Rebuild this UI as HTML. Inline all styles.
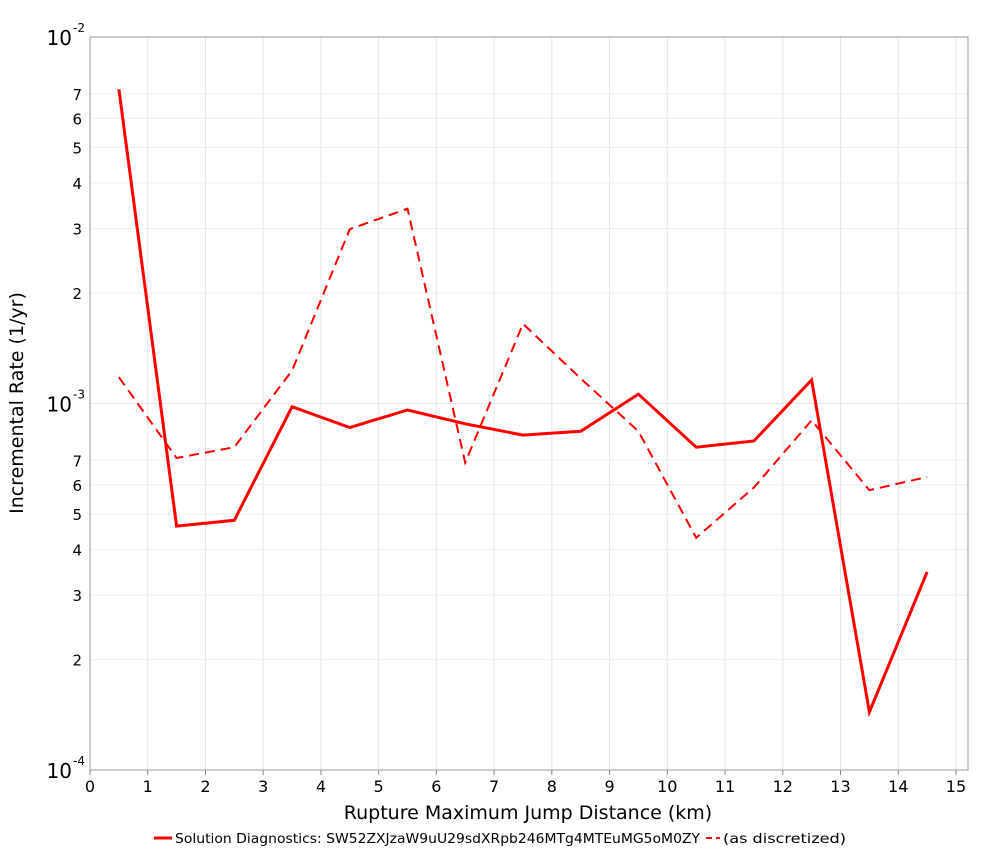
<!DOCTYPE html>
<html><head><meta charset="utf-8"><style>
html,body{margin:0;padding:0;background:#fff;width:1000px;height:850px;overflow:hidden}
svg text{font-family:"DejaVu Sans","Liberation Sans",sans-serif}
</style></head><body>
<svg id="chart" width="1000" height="850" xmlns="http://www.w3.org/2000/svg">
<g id="grid"></g>
<rect x="90" y="37" width="878" height="733" fill="none" stroke="#999" stroke-width="1"/>
<g id="axes"></g>
<g id="series"></g>
<text x="528" y="819" font-size="19" text-anchor="middle">Rupture Maximum Jump Distance (km)</text>
<text transform="translate(23,403) rotate(-90)" font-size="19" text-anchor="middle">Incremental Rate (1/yr)</text>
<g>
<line x1="154" y1="838" x2="172" y2="838" stroke="#f00" stroke-width="3"/>
<text x="175" y="843" font-size="13" textLength="525" lengthAdjust="spacingAndGlyphs">Solution Diagnostics: SW52ZXJzaW9uU29sdXRpb246MTg4MTEuMG5oM0ZY</text>
<line x1="706" y1="838" x2="720" y2="838" stroke="#f00" stroke-width="2" stroke-dasharray="6,4"/>
<text x="723" y="843" font-size="13" textLength="123" lengthAdjust="spacingAndGlyphs">(as discretized)</text>
</g>
</svg>
<script>
const xs = [0.5,1.5,2.5,3.5,4.5,5.5,6.5,7.5,8.5,9.5,10.5,11.5,12.5,13.5,14.5];
const solutionRates = [7.2e-3,4.63e-4,4.8e-4,9.8e-4,8.6e-4,9.6e-4,8.8e-4,8.2e-4,8.4e-4,1.06e-3,7.6e-4,7.9e-4,1.16e-3,1.44e-4,3.47e-4];
const discretizedRates = [1.18e-3,7.1e-4,7.6e-4,1.23e-3,2.99e-3,3.4e-3,6.9e-4,1.65e-3,1.17e-3,8.4e-4,4.3e-4,5.9e-4,9.0e-4,5.8e-4,6.3e-4];
const xTicks = [0,1,2,3,4,5,6,7,8,9,10,11,12,13,14,15];
const yMinorTicks = [2,3,4,5,6,7];

const NS="http://www.w3.org/2000/svg";
const X0=90,XS=57.73,YT=37,DEC=366.5;
function xPos(v){return X0+v*XS;}
function yPos(v){return YT+(-2-Math.log10(v))*DEC;}
function mk(tag,attrs,parent){const e=document.createElementNS(NS,tag);for(const k in attrs)e.setAttribute(k,attrs[k]);parent.appendChild(e);return e;}
const grid=document.getElementById('grid'),axes=document.getElementById('axes'),series=document.getElementById('series');

xTicks.forEach(t=>{
  const x=xPos(t);
  const g=mk('line',{x1:x,x2:x,y1:37,y2:770,stroke:'#e6e6e6','stroke-width':1},grid);
  
  
  const tk=mk('line',{x1:x,x2:x,y1:770,y2:775,stroke:'#888'},axes);
  
  
  const l=mk('text',{x:x,y:792,'font-size':16,'text-anchor':'middle'},axes);
  l.textContent=t;
  
  
});
[-4,-3,-2].forEach(p=>{
  const y=yPos(Math.pow(10,p));
  const g=mk('line',{x1:90,x2:968,y1:y,y2:y,stroke:'#e6e6e6'},grid);
  
  
  const l=mk('text',{x:72,y:y+8,'font-size':20,'text-anchor':'end'},axes);
  l.textContent='10';
  
  
  const s=mk('text',{x:73,y:y-5,'font-size':12},axes);
  s.textContent=String(p);
  
  
  if(p<-2){
    yMinorTicks.forEach(m=>{
      const yy=yPos(m*Math.pow(10,p));
      const gm=mk('line',{x1:90,x2:968,y1:yy,y2:yy,stroke:'#eeeeee'},grid);
      
      
      const lm=mk('text',{x:82,y:yy+6,'font-size':15,'text-anchor':'end'},axes);
      lm.textContent=m;
      
      
    });
  }
});
function pts(arr){return xs.map((x,i)=>xPos(x).toFixed(1)+','+yPos(arr[i]).toFixed(1)).join(' ');}
const d=mk('polyline',{points:pts(discretizedRates),fill:'none',stroke:'#f00','stroke-width':2,'stroke-dasharray':'10,6'},series);


const s=mk('polyline',{points:pts(solutionRates),fill:'none',stroke:'#f00','stroke-width':3},series);


</script>
</body></html>
